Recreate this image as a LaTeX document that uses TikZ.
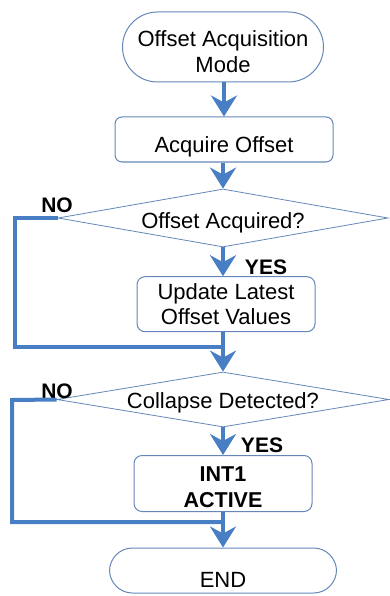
\documentclass[tikz,border=0pt]{standalone}
\usepackage{fontspec}
\setmainfont{Liberation Sans}
\usetikzlibrary{shapes.geometric,arrows.meta}
\definecolor{flowblue}{RGB}{72,126,196}
\definecolor{edgeblue}{RGB}{100,135,185}
\begin{document}
\begin{tikzpicture}[x=1pt,y=-1pt,
  txt/.style={font=\fontsize{22}{26}\selectfont},
  boxstyle/.style={draw=edgeblue,line width=1pt,rounded corners=8pt,align=center,inner sep=0pt,txt},
  decstyle/.style={draw=edgeblue,line width=0.8pt,diamond,aspect=5.7,inner sep=0pt,txt,text depth=0pt},
  lbl/.style={font=\bfseries\fontsize{21}{24}\selectfont,inner sep=0pt},
  flowarrow/.style={draw=flowblue,line width=4pt,-{Stealth[length=21pt,width=26pt,inset=7pt]}},
  loopline/.style={draw=flowblue,line width=4pt,line join=miter}
]
\useasboundingbox (0,0) rectangle (390,596);
% nodes
\node[boxstyle,rounded corners=35pt,minimum width=201pt,minimum height=70pt] (start) at (223,47) {\rule{0pt}{26pt}Offset Acquisition\\Mode};
\node[boxstyle,rounded corners=7pt,minimum width=218pt,minimum height=45pt,text height=26.4pt,text depth=0pt] (acq) at (224,139.5) {Acquire Offset};
\node[decstyle,minimum width=330pt,minimum height=58pt,text height=20pt] (d1) at (223,218) {Offset Acquired?};
\node[boxstyle,minimum width=178pt,minimum height=55pt,font=\fontsize{22}{25}\selectfont] (upd) at (226,304.2) {Update Latest\\Offset Values};
\node[decstyle,minimum width=332pt,minimum height=55pt,aspect=6,text height=18pt] (d2) at (223,399.5) {Collapse Detected?};
\node[boxstyle,minimum width=178pt,minimum height=56pt,font=\bfseries\fontsize{21.5}{25.5}\selectfont] (int) at (223,483.5) {\rule{0pt}{22.5pt}INT1\\ACTIVE};
\node[boxstyle,rounded corners=23pt,minimum width=227pt,minimum height=45pt,text height=33pt,text depth=0pt] (end) at (223,570.5) {END};
% labels
\node[lbl] (no1) at (57,205) {NO};
\node[lbl] (yes1) at (266,267) {YES};
\node[lbl] (no2) at (57,391) {NO};
\node[lbl] (yes2) at (262,445) {YES};
% helper coordinates
\coordinate (lx1) at (15,218);
\coordinate (m1) at (223,347);
\coordinate (lx2) at (12,400);
\coordinate (m2) at (223,522);
% connectors
\draw[flowarrow] (start.south -| acq.north) -- (acq.north);
\draw[flowarrow] (acq.south -| d1.north) -- (d1.north);
\draw[flowarrow] (d1.south) -- (upd.north -| d1.south);
\draw[flowarrow] (upd.south -| d2.north) -- (d2.north);
\draw[loopline] (d1.west) -- (lx1) |- (m1);
\draw[flowarrow] (d2) -- (int);
\draw[flowarrow] (int) -- (end);
\draw[loopline] (d2.west) -- (lx2) |- (m2);
\end{tikzpicture}
\end{document}
